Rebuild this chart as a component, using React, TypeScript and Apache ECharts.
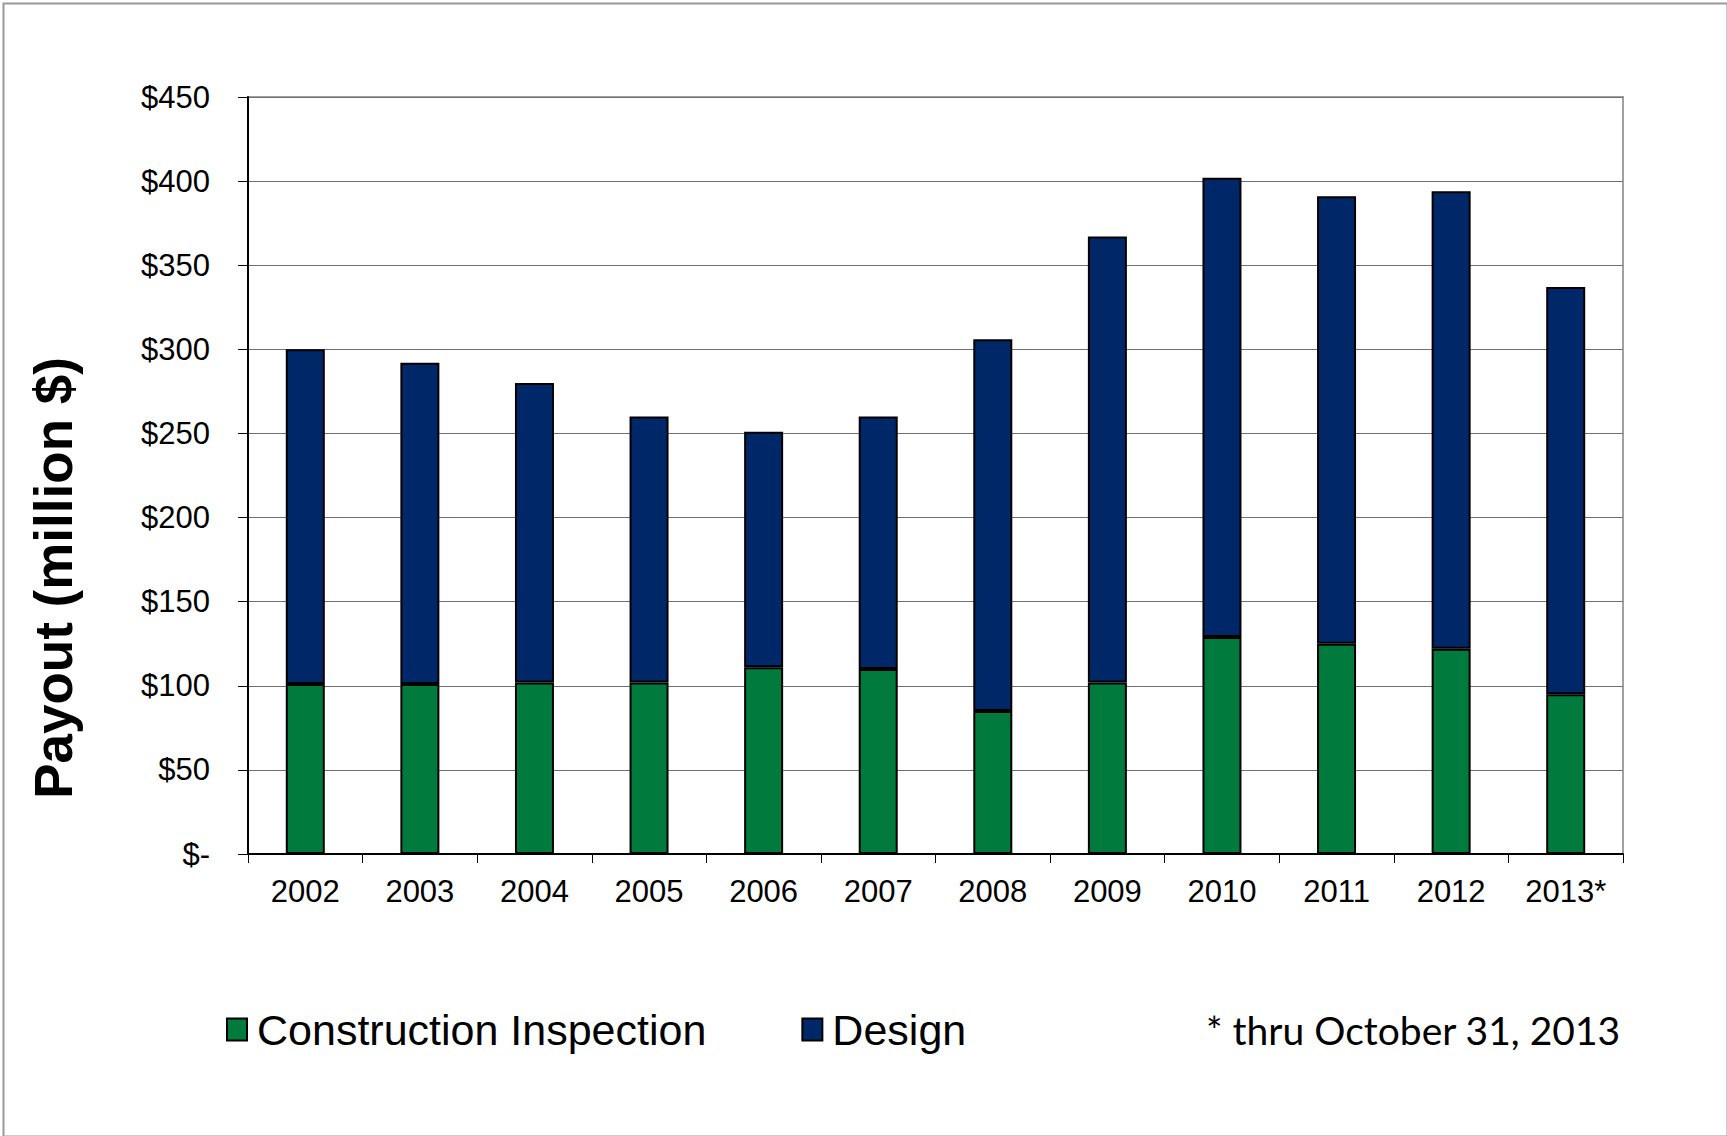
import React, { useEffect, useRef } from "react";
import * as echarts from "echarts";

const years = ["2002", "2003", "2004", "2005", "2006", "2007", "2008", "2009", "2010", "2011", "2012", "2013*"];
const constructionInspection = [101, 101, 102, 102, 111, 110, 85, 102, 129, 125, 122, 95];
const design = [199, 191, 178, 158, 140, 150, 221, 265, 273, 266, 272, 242];
const yTicks = [0, 50, 100, 150, 200, 250, 300, 350, 400, 450];
const yTitle = "Payout (million $)";
const footnote = "* thru October 31, 2013";

export default function App() {
  const ref = useRef<HTMLDivElement>(null);
  useEffect(() => {
    if (!ref.current) return;
    const chart = echarts.init(ref.current, null, { renderer: "svg" });
    const font = "'Liberation Sans', Arial, sans-serif";
    chart.setOption({
      animation: false,
      backgroundColor: "#fff",
      textStyle: { fontFamily: font, color: "#000" },
      grid: {
        left: 248,
        right: 104,
        top: 97,
        bottom: 282,
        show: true,
        borderColor: "#a0a0a0",
        borderWidth: 2,
      },
      xAxis: {
        type: "category",
        data: years,
        axisLine: { lineStyle: { color: "#000", width: 2 } },
        axisTick: { show: true, length: 9, lineStyle: { color: "#000", width: 1 } },
        axisLabel: { fontSize: 31, color: "#000", fontFamily: font, margin: 22 },
      },
      yAxis: {
        type: "value",
        min: yTicks[0],
        max: yTicks[yTicks.length - 1],
        interval: 50,
        axisLine: { show: true, lineStyle: { color: "#000", width: 2 } },
        axisTick: { show: true, length: 10, lineStyle: { color: "#000", width: 1 } },
        axisLabel: {
          fontSize: 31,
          color: "#000",
          fontFamily: font,
          margin: 38,
          formatter: (v: number) => (v === 0 ? "$-" : "$" + v),
        },
        splitLine: { show: true, lineStyle: { color: "#707070", width: 1 } },
      },
      legend: {
        left: 226,
        top: 1008,
        padding: 0,
        itemWidth: 20,
        itemHeight: 22,
        itemGap: 95,
        icon: "rect",
        textStyle: { fontSize: 43, color: "#000", fontFamily: font, padding: [0, 0, 0, 5] },
        data: ["Construction Inspection", "Design"],
      },
      graphic: [
        {
          type: "rect",
          left: 1,
          top: 1,
          shape: { width: 1724, height: 1133 },
          style: { fill: "none", stroke: "#9a9a9a", lineWidth: 2 },
          silent: true,
        },
        {
          type: "text",
          x: 53,
          y: 578,
          rotation: Math.PI / 2,
          style: {
            text: yTitle,
            fontSize: 53,
            fontWeight: "bold",
            fontFamily: font,
            fill: "#000",
            align: "center",
            verticalAlign: "middle",
          },
        },
        {
          type: "text",
          left: 1206,
          top: 1010,
          style: {
            text: footnote,
            fontSize: 39,
            fontFamily: "Lato, 'Open Sans', sans-serif",
            fill: "#000",
          },
        },
      ],
      series: [
        {
          name: "Construction Inspection",
          type: "bar",
          stack: "total",
          barWidth: 39,
          data: constructionInspection,
          itemStyle: { color: "#007A3D", borderColor: "#000", borderWidth: 2 },
        },
        {
          name: "Design",
          type: "bar",
          stack: "total",
          barWidth: 39,
          data: design,
          itemStyle: { color: "#002868", borderColor: "#000", borderWidth: 2 },
        },
      ],
    });
    return () => chart.dispose();
  }, []);
  return (
    <div
      ref={ref}
      style={{ position: "fixed", left: 0, top: 0, width: 1727, height: 1136 }}
    />
  );
}
